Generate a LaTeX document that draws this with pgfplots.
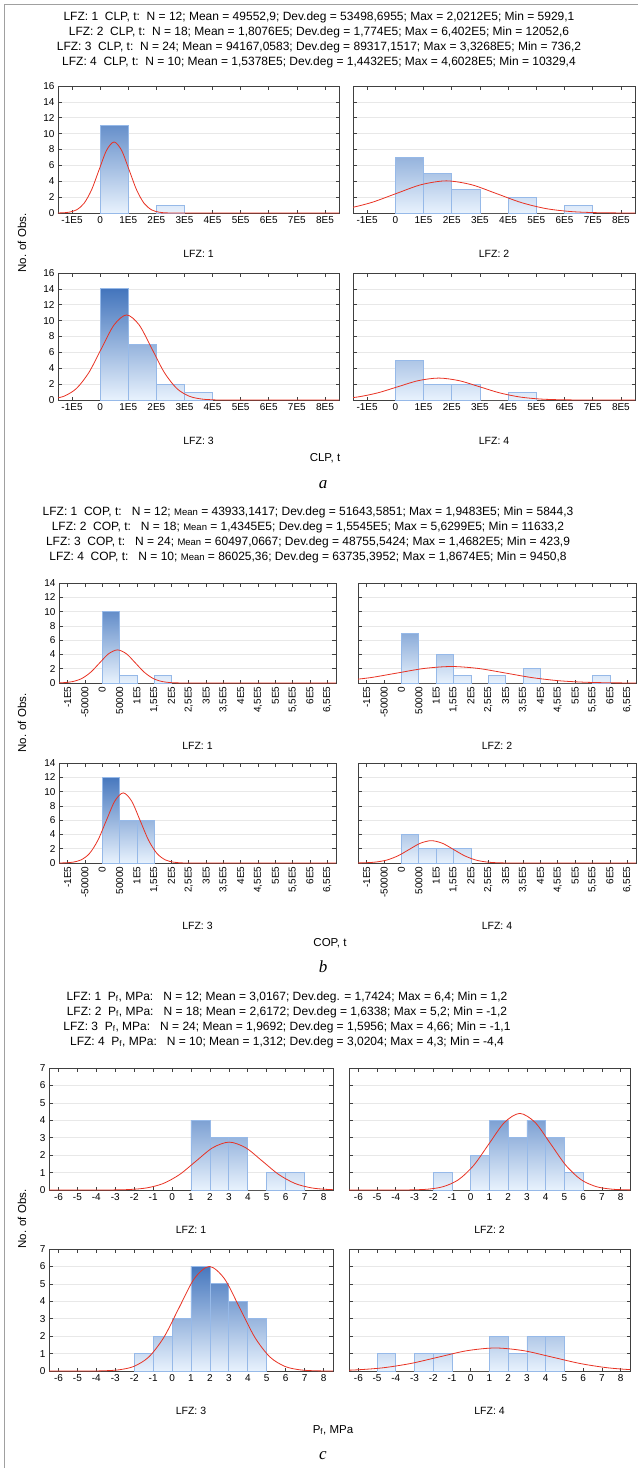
\documentclass[border=0pt]{standalone}
\usepackage{pgfplots}
\pgfplotsset{compat=1.18}
\usepackage{fontspec}
\setmainfont{Liberation Sans}
\newfontfamily\serifit{Liberation Serif}
\definecolor{bardark}{RGB}{45,100,180}
\definecolor{barlight}{RGB}{232,242,253}
\definecolor{baredge}{RGB}{150,185,232}
\definecolor{curvecol}{RGB}{232,50,35}
\definecolor{framecol}{RGB}{160,160,160}
\newcommand\tickfont{\fontsize{10}{12}\selectfont}
\newcommand\labfont{\fontsize{10.5}{12}\selectfont}
\newcommand\axfont{\fontsize{11.5}{13}\selectfont}
\newcommand\titfont{\fontsize{12}{14}\selectfont}
\newcommand\sm[1]{{\fontsize{9.5}{11}\selectfont #1}}
\pgfplotsset{
  stat/.style={scale only axis, anchor=north west, ymin=0,
    axis line style={draw=black!75, line width=0.9pt},
    tick align=inside, major tick length=3.5pt,
    every tick/.style={black!75, line width=0.7pt},
    ymajorgrids, major grid style={black!9, line width=0.6pt},
    scaled x ticks=false, scaled y ticks=false,
    /pgf/number format/assume math mode=true,
    tick label style={font=\tickfont}},
  xlab/.style={every axis x label/.style={at={(axis description cs:0.5,0)}, anchor=center, yshift=-#1, font=\labfont}},
  pa/.style={stat, height=127pt, xmin=-150000, xmax=850000, ymax=16, ytick={0,2,4,6,8,10,12,14,16},
    xtick={-100000,0,100000,200000,300000,400000,500000,600000,700000,800000},
    xticklabels={-1E5,0,1E5,2E5,3E5,4E5,5E5,6E5,7E5,8E5}, xlab=41pt},
  pb/.style={stat, height=100pt, xmin=-125000, xmax=675000, ymax=14, ytick={0,2,4,6,8,10,12,14},
    xtick={-100000,-50000,0,50000,100000,150000,200000,250000,300000,350000,400000,450000,500000,550000,600000,650000},
    xticklabels={-1E5,-50000,0,50000,1E5,{1,5E5},2E5,{2,5E5},3E5,{3,5E5},4E5,{4,5E5},5E5,{5,5E5},6E5,{6,5E5}},
    xticklabel style={rotate=90, anchor=east}, xlab=63pt},
  pc/.style={stat, height=122pt, xmin=-6.5, xmax=8.5, ymax=7, ytick={0,1,2,3,4,5,6,7},
    xtick={-6,-5,-4,-3,-2,-1,0,1,2,3,4,5,6,7,8}, xlab=40pt},
  shd/.style={const plot, draw=none, top color=bardark!#1!barlight, bottom color=barlight},
  bars/.style={ybar, bar width=#1, bar shift=0pt, fill=none, draw=baredge, line width=0.8pt},
  nrm/.style={curvecol, line width=0.8pt, smooth, mark=none},
  noy/.style={yticklabels={}},
}
\begin{document}
\begin{tikzpicture}[x=1pt,y=1pt]
\useasboundingbox (0,0) rectangle (638,-1468);
\draw[framecol, line width=1.5pt] (4.5,-1468) -- (4.5,-4.5) -- (638,-4.5);
% ---------------- panel a ----------------
\node[font=\titfont] at (319,-17) {LFZ: 1\ \ CLP, t:\ \ N = 12; Mean = 49552,9; Dev.deg = 53498,6955; Max = 2,0212E5; Min = 5929,1};
\node[font=\titfont] at (319,-32) {LFZ: 2\ \ CLP, t:\ \ N = 18; Mean = 1,8076E5; Dev.deg = 1,774E5; Max = 6,402E5; Min = 12052,6};
\node[font=\titfont] at (319,-47) {LFZ: 3\ \ CLP, t:\ \ N = 24; Mean = 94167,0583; Dev.deg = 89317,1517; Max = 3,3268E5; Min = 736,2};
\node[font=\titfont] at (319,-62) {LFZ: 4\ \ CLP, t:\ \ N = 10; Mean = 1,5378E5; Dev.deg = 1,4432E5; Max = 4,6028E5; Min = 10329,4};
\begin{axis}[pa, at={(58pt,-86pt)}, width=281pt, xlabel={LFZ: 1}]
\addplot[shd=69] coordinates {(0,11) (100000,0) (200000,1) (300000,1)} \closedcycle;
\addplot[bars=100000] coordinates {(50000,11) (250000,1)};
\addplot[nrm] coordinates {(-164443,0.003) (-137694,0.0196) (-110944,0.0994) (-84195,0.393) (-57445,1.211) (-30696,2.905) (-3946,5.428) (22803,7.897) (49553,8.949) (76303,7.897) (103052,5.428) (129802,2.905) (156551,1.211) (183301,0.393) (210050,0.0994) (236800,0.0196) (263549,0.003) (900000,0)};
\end{axis}
\begin{axis}[pa, noy, at={(353pt,-86pt)}, width=282pt, xlabel={LFZ: 2}]
\addplot[shd=44] coordinates {(0,7) (100000,5) (200000,3) (300000,0) (400000,2) (500000,0) (600000,1) (700000,1)} \closedcycle;
\addplot[bars=100000] coordinates {(50000,7) (150000,5) (250000,3) (450000,2) (650000,1)};
\addplot[nrm] coordinates {(-262740,0.178) (-174040,0.548) (-85340,1.314) (3360,2.455) (92060,3.572) (180760,4.048) (269460,3.572) (358160,2.455) (446860,1.314) (535560,0.548) (624260,0.178) (712960,0.045) (801660,0.0089) (890360,0.0014)};
\end{axis}
\begin{axis}[pa, at={(58pt,-273pt)}, width=281pt, xlabel={LFZ: 3}]
\addplot[shd=88] coordinates {(0,14) (100000,7) (200000,2) (300000,1) (400000,1)} \closedcycle;
\addplot[bars=100000] coordinates {(50000,14) (150000,7) (250000,2) (350000,1)};
\addplot[nrm] coordinates {(-173784,0.119) (-129126,0.471) (-84467,1.451) (-39809,3.480) (4850,6.502) (49509,9.460) (94167,10.72) (138826,9.460) (183484,6.502) (228143,3.480) (272801,1.451) (317460,0.471) (362118,0.119) (406777,0.0235) (451435,0.0036) (900000,0)};
\end{axis}
\begin{axis}[pa, noy, at={(353pt,-273pt)}, width=282pt, xlabel={LFZ: 4}]
\addplot[shd=31] coordinates {(0,5) (100000,2) (200000,2) (300000,0) (400000,1) (500000,1)} \closedcycle;
\addplot[bars=100000] coordinates {(50000,5) (150000,2) (250000,2) (450000,1)};
\addplot[nrm] coordinates {(-207020,0.121) (-134860,0.374) (-62700,0.897) (9460,1.676) (81620,2.439) (153780,2.764) (225940,2.439) (298100,1.676) (370260,0.897) (442420,0.374) (514580,0.121) (586740,0.0307) (658900,0.0061) (731060,0.0009) (900000,0)};
\end{axis}
\node[font=\axfont, rotate=90] at (22,-243) {No. of Obs.};
\node[font=\axfont] at (325,-458) {CLP, t};
\node[font=\serifit\itshape\fontsize{17}{19}\selectfont] at (323,-485) {a};
% ---------------- panel b ----------------
\node[font=\titfont] at (308,-512) {LFZ: 1\ \ COP, t:\ \ \ N = 12; \sm{Mean} = 43933,1417; Dev.deg = 51643,5851; Max = 1,9483E5; Min = 5844,3};
\node[font=\titfont] at (308,-527) {LFZ: 2\ \ COP, t:\ \ \ N = 18; \sm{Mean} = 1,4345E5; Dev.deg = 1,5545E5; Max = 5,6299E5; Min = 11633,2};
\node[font=\titfont] at (308,-542) {LFZ: 3\ \ COP, t:\ \ \ N = 24; \sm{Mean} = 60497,0667; Dev.deg = 48755,5424; Max = 1,4682E5; Min = 423,9};
\node[font=\titfont] at (308,-557) {LFZ: 4\ \ COP, t:\ \ \ N = 10; \sm{Mean} = 86025,36; Dev.deg = 63735,3952; Max = 1,8674E5; Min = 9450,8};
\begin{axis}[pb, at={(59pt,-583pt)}, width=277pt, xlabel={LFZ: 1}]
\addplot[shd=71] coordinates {(0,10) (50000,1) (100000,0) (150000,1) (200000,1)} \closedcycle;
\addplot[bars=50000] coordinates {(25000,10) (75000,1) (175000,1)};
\addplot[nrm] coordinates {(-162643,0.0016) (-136821,0.0102) (-110999,0.0515) (-85177,0.204) (-59355,0.627) (-33533,1.505) (-7711,2.811) (18111,4.090) (43933,4.635) (69755,4.090) (95577,2.811) (121399,1.505) (147221,0.627) (173043,0.204) (198865,0.0515) (224687,0.0102) (250509,0.0016) (700000,0)};
\end{axis}
\begin{axis}[pb, noy, at={(358pt,-583pt)}, width=278pt, xlabel={LFZ: 2}]
\addplot[shd=50] coordinates {(0,7) (50000,0) (100000,4) (150000,1) (200000,0) (250000,1) (300000,0) (350000,2) (400000,0) (550000,1) (600000,1)} \closedcycle;
\addplot[bars=50000] coordinates {(25000,7) (125000,4) (175000,1) (275000,1) (375000,2) (575000,1)};
\addplot[nrm] coordinates {(-167450,0.313) (-89725,0.750) (-12000,1.401) (65725,2.039) (143450,2.310) (221175,2.039) (298900,1.401) (376625,0.750) (454350,0.313) (532075,0.1015) (609800,0.0257) (687525,0.0051) (765250,0.0008)};
\end{axis}
\begin{axis}[pb, at={(59pt,-763pt)}, width=277pt, xlabel={LFZ: 3}]
\addplot[shd=86] coordinates {(0,12) (50000,6) (100000,6) (150000,6)} \closedcycle;
\addplot[bars=50000] coordinates {(25000,12) (75000,6) (125000,6)};
\addplot[nrm] coordinates {(-134527,0.0033) (-110149,0.0215) (-85771,0.109) (-61393,0.431) (-37015,1.329) (-12637,3.188) (11741,5.956) (36119,8.665) (60497,9.819) (84875,8.665) (109253,5.956) (133631,3.188) (158009,1.329) (182387,0.431) (206765,0.109) (231143,0.0215) (255521,0.0033) (700000,0)};
\end{axis}
\begin{axis}[pb, noy, at={(358pt,-763pt)}, width=278pt, xlabel={LFZ: 4}]
\addplot[shd=29] coordinates {(0,4) (50000,2) (100000,2) (150000,2) (200000,2)} \closedcycle;
\addplot[bars=50000] coordinates {(25000,4) (75000,2) (125000,2) (175000,2)};
\addplot[nrm] coordinates {(-137048,0.0069) (-105180,0.0348) (-73313,0.1375) (-41445,0.424) (-9578,1.016) (22290,1.898) (54158,2.762) (86025,3.130) (117893,2.762) (149760,1.898) (181628,1.016) (213495,0.424) (245363,0.1375) (277230,0.0348) (309098,0.0069) (340965,0.0011) (700000,0)};
\end{axis}
\node[font=\axfont, rotate=90] at (22,-723) {No. of Obs.};
\node[font=\axfont] at (330,-943) {COP, t};
\node[font=\serifit\itshape\fontsize{17}{19}\selectfont] at (323,-967) {b};
% ---------------- panel c ----------------
\node[font=\titfont] at (287,-997) {LFZ: 1\ \ P\textsubscript{f}, MPa:\ \ \ N = 12; Mean = 3,0167; Dev.deg. = 1,7424; Max = 6,4; Min = 1,2};
\node[font=\titfont] at (287,-1012) {LFZ: 2\ \ P\textsubscript{f}, MPa:\ \ \ N = 18; Mean = 2,6172; Dev.deg = 1,6338; Max = 5,2; Min = -1,2};
\node[font=\titfont] at (287,-1027) {LFZ: 3\ \ P\textsubscript{f}, MPa:\ \ \ N = 24; Mean = 1,9692; Dev.deg = 1,5956; Max = 4,66; Min = -1,1};
\node[font=\titfont] at (287,-1042) {LFZ: 4\ \ P\textsubscript{f}, MPa:\ \ \ N = 10; Mean = 1,312; Dev.deg = 3,0204; Max = 4,3; Min = -4,4};
\begin{axis}[pc, at={(49pt,-1068pt)}, width=284pt, xlabel={LFZ: 1}]
\addplot[shd=57] coordinates {(1,4) (2,3) (3,3) (4,0) (5,1) (6,1) (7,1)} \closedcycle;
\addplot[bars=1] coordinates {(1.5,4) (2.5,3) (3.5,3) (5.5,1) (6.5,1)};
\addplot[nrm] coordinates {(-7,0) (-3.953,0.0009) (-3.082,0.0060) (-2.2105,0.0305) (-1.3393,0.1207) (-0.4681,0.372) (0.4031,0.892) (1.2743,1.667) (2.1455,2.425) (3.0167,2.748) (3.8879,2.425) (4.7591,1.667) (5.6303,0.892) (6.5015,0.372) (7.3727,0.1207) (8.2439,0.0305) (9.1151,0.006)};
\end{axis}
\begin{axis}[pc, noy, at={(349pt,-1068pt)}, width=281pt, xlabel={LFZ: 2}]
\addplot[shd=57] coordinates {(-2,1) (-1,0) (0,2) (1,4) (2,3) (3,4) (4,3) (5,1) (6,1)} \closedcycle;
\addplot[bars=1] coordinates {(-1.5,1) (0.5,2) (1.5,4) (2.5,3) (3.5,4) (4.5,3) (5.5,1)};
\addplot[nrm] coordinates {(-7,0) (-3.918,0.0015) (-3.1011,0.0096) (-2.2842,0.0488) (-1.4673,0.193) (-0.6504,0.595) (0.1665,1.427) (0.9834,2.666) (1.8003,3.879) (2.6172,4.395) (3.4341,3.879) (4.251,2.666) (5.0679,1.427) (5.8848,0.595) (6.7017,0.193) (7.5186,0.0488) (8.3355,0.0096) (9.1524,0.0015)};
\end{axis}
\begin{axis}[pc, at={(49pt,-1249pt)}, width=284pt, xlabel={LFZ: 3}]
\addplot[shd=86] coordinates {(-2,1) (-1,2) (0,3) (1,6) (2,5) (3,4) (4,3) (5,3)} \closedcycle;
\addplot[bars=1] coordinates {(-1.5,1) (-0.5,2) (0.5,3) (1.5,6) (2.5,5) (3.5,4) (4.5,3)};
\addplot[nrm] coordinates {(-7,0) (-4.4132,0.002) (-3.6154,0.0131) (-2.8176,0.0667) (-2.0198,0.264) (-1.222,0.812) (-0.4242,1.948) (0.3736,3.639) (1.1714,5.295) (1.9692,6.000) (2.767,5.295) (3.5648,3.639) (4.3626,1.948) (5.1604,0.812) (5.9582,0.264) (6.756,0.0667) (7.5538,0.0131) (8.3516,0.002) (9,0)};
\end{axis}
\begin{axis}[pc, noy, at={(349pt,-1249pt)}, width=281pt, xlabel={LFZ: 4}]
\addplot[shd=29] coordinates {(-5,1) (-4,0) (-3,1) (-2,1) (-1,0) (1,2) (2,1) (3,2) (4,2) (5,2)} \closedcycle;
\addplot[bars=1] coordinates {(-4.5,1) (-2.5,1) (-1.5,1) (1.5,2) (2.5,1) (3.5,2) (4.5,2)};
\addplot[nrm] coordinates {(-7.749,0.0147) (-6.239,0.058) (-4.7288,0.179) (-3.2186,0.429) (-1.7084,0.801) (-0.1982,1.166) (1.312,1.321) (2.8222,1.166) (4.3324,0.801) (5.8426,0.429) (7.3528,0.179) (8.863,0.058) (10.3732,0.0147)};
\end{axis}
\node[font=\axfont, rotate=90] at (22,-1219) {No. of Obs.};
\node[font=\axfont] at (333,-1430) {P\textsubscript{f}, MPa};
\node[font=\serifit\itshape\fontsize{17}{19}\selectfont] at (323,-1456) {c};
\end{tikzpicture}
\end{document}
